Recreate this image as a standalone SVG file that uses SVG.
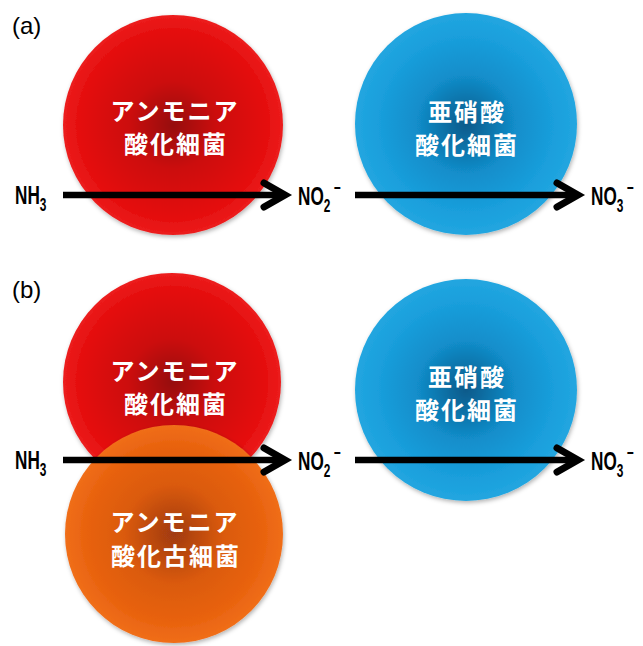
<svg xmlns="http://www.w3.org/2000/svg" width="643" height="646" viewBox="0 0 643 646">
<style>
.lbl{font-family:"Liberation Sans",Arial,sans-serif;font-weight:bold;font-size:26px;fill:#000}
.sub{font-size:18px}
.pl{font-family:"Liberation Sans",Arial,sans-serif;font-size:24px;fill:#000}
.cj{font-family:"Noto Sans CJK JP","Noto Sans CJK SC",sans-serif;font-weight:bold;font-size:24px;fill:#fff;text-anchor:middle;letter-spacing:2px}
.ar{stroke:#000;stroke-width:6.5;fill:none;stroke-linecap:butt}
.hd{stroke:#000;stroke-width:7;fill:none;stroke-linecap:round;stroke-linejoin:miter}
</style>
<defs>
<radialGradient id="gr" cx="50%" cy="50%" r="50%">
<stop offset="0" stop-color="#960a0e"/>
<stop offset="0.4" stop-color="#cc0709"/>
<stop offset="0.8" stop-color="#e20a0a"/>
<stop offset="1" stop-color="#ec1c1c"/>
</radialGradient>
<radialGradient id="gb" cx="50%" cy="50%" r="50%">
<stop offset="0" stop-color="#0a5a8a"/>
<stop offset="0.45" stop-color="#128ecb"/>
<stop offset="0.8" stop-color="#1a9fdc"/>
<stop offset="1" stop-color="#22a6e0"/>
</radialGradient>
<radialGradient id="go" cx="50%" cy="50%" r="50%">
<stop offset="0" stop-color="#a03a12"/>
<stop offset="0.45" stop-color="#da5a0e"/>
<stop offset="0.8" stop-color="#e8620e"/>
<stop offset="1" stop-color="#f06e1a"/>
</radialGradient>
<filter id="sh" x="-10%" y="-10%" width="120%" height="125%">
<feDropShadow dx="1" dy="2" stdDeviation="2" flood-color="#000" flood-opacity="0.3"/>
</filter>
</defs>

<text class="pl" x="12" y="34">(a)</text>
<text class="pl" x="12" y="298">(b)</text>

<g id="aob-a">
<circle cx="173" cy="125" r="110" fill="url(#gr)" filter="url(#sh)"/>
<text class="cj" x="175" y="120">アンモニア</text>
<text class="cj" x="176" y="153">酸化細菌</text>
</g>
<g id="nob-a">
<circle cx="466" cy="124" r="111" fill="url(#gb)" filter="url(#sh)"/>
<text class="cj" x="467" y="121">亜硝酸</text>
<text class="cj" x="467" y="154">酸化細菌</text>
</g>

<g id="aob-b">
<circle cx="172" cy="382" r="109" fill="url(#gr)" filter="url(#sh)"/>
<text class="cj" x="175" y="380">アンモニア</text>
<text class="cj" x="176" y="413">酸化細菌</text>
</g>
<g id="aoa-b">
<circle cx="174" cy="534" r="109" fill="url(#go)" filter="url(#sh)"/>
<text class="cj" x="175" y="531">アンモニア</text>
<text class="cj" x="176" y="565">酸化古細菌</text>
</g>
<g id="nob-b">
<circle cx="466" cy="390" r="111" fill="url(#gb)" filter="url(#sh)"/>
<text class="cj" x="467" y="386">亜硝酸</text>
<text class="cj" x="467" y="419">酸化細菌</text>
</g>

<g id="connectors">
<line class="ar" x1="63" y1="195" x2="283" y2="195"/>
<polyline class="hd" points="264,183 285,195 264,207"/>
<line class="ar" x1="355" y1="195" x2="576" y2="195"/>
<polyline class="hd" points="557,183 578,195 557,207"/>
<line class="ar" x1="63" y1="460" x2="283" y2="460"/>
<polyline class="hd" points="264,448 285,460 264,472"/>
<line class="ar" x1="355" y1="460" x2="576" y2="460"/>
<polyline class="hd" points="557,448 578,460 557,472"/>
</g>

<g id="labels">
<text class="lbl" transform="translate(15,204) scale(0.66,1)">NH<tspan class="sub" dy="7">3</tspan></text>
<text class="lbl" transform="translate(298,205) scale(0.66,1)">NO<tspan class="sub" dy="7">2</tspan><tspan class="sub" dx="5" dy="-18">−</tspan></text>
<text class="lbl" transform="translate(591,205) scale(0.66,1)">NO<tspan class="sub" dy="7">3</tspan><tspan class="sub" dx="5" dy="-18">−</tspan></text>
<text class="lbl" transform="translate(15,469) scale(0.66,1)">NH<tspan class="sub" dy="7">3</tspan></text>
<text class="lbl" transform="translate(298,470) scale(0.66,1)">NO<tspan class="sub" dy="7">2</tspan><tspan class="sub" dx="5" dy="-18">−</tspan></text>
<text class="lbl" transform="translate(591,470) scale(0.66,1)">NO<tspan class="sub" dy="7">3</tspan><tspan class="sub" dx="5" dy="-18">−</tspan></text>
</g>
</svg>
